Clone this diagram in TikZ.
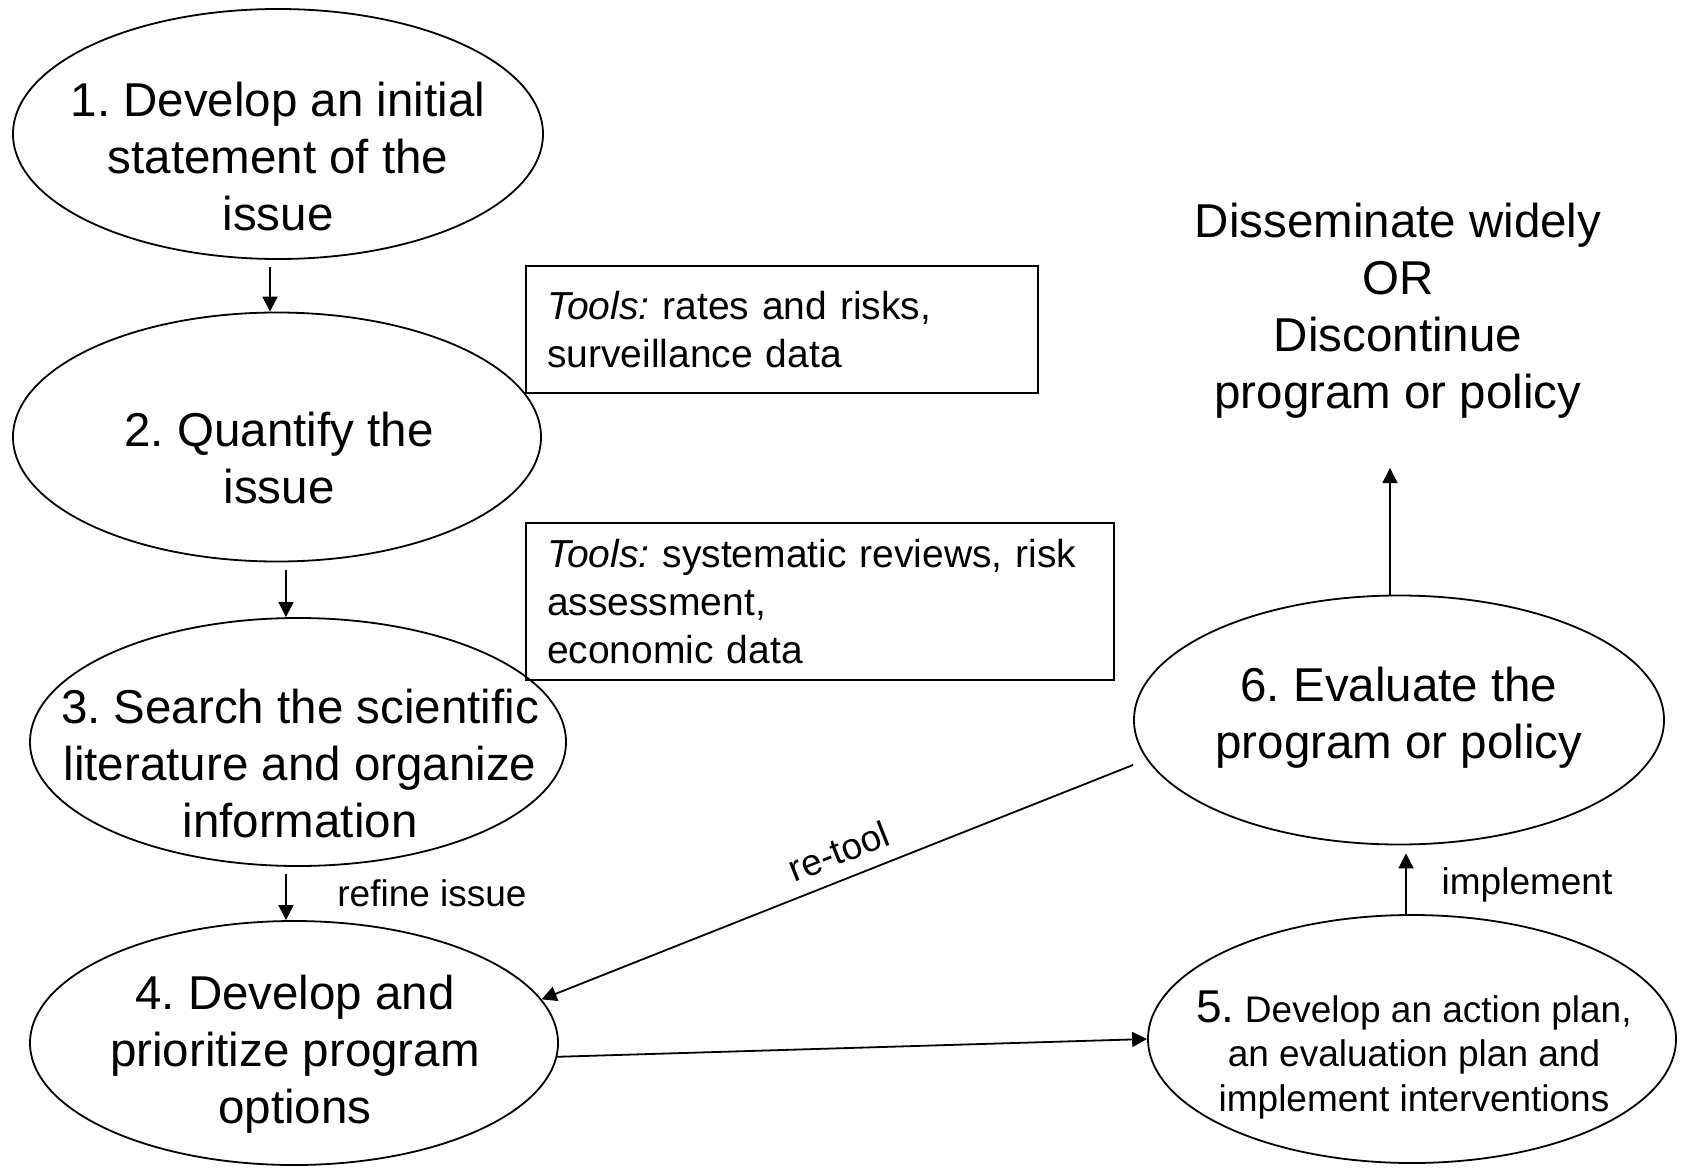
\documentclass[tikz,border=0pt]{standalone}
\usepackage{fontspec}
\setmainfont{Liberation Sans}
\usetikzlibrary{shapes.geometric,arrows.meta}
\frenchspacing
\begin{document}
\begin{tikzpicture}[x=1pt,y=-1pt,
  oval/.style={draw, ellipse, line width=1.8pt, inner sep=0pt},
  big/.style={font=\fontsize{47.5}{57}\selectfont, align=center, inner sep=0pt},
  lab/.style={font=\fontsize{37}{44.5}\selectfont, inner sep=0pt},
  arr/.style={line width=1.8pt, -{Triangle[length=15pt,width=15pt]}},
  toolbox/.style={draw, line width=1.8pt, font=\fontsize{39}{48}\selectfont, align=left, inner xsep=21pt, inner ysep=0pt}]

\useasboundingbox (0,0) rectangle (1683,1169);

% ellipses
\node[oval, minimum width=530pt, minimum height=250pt] (e1) at (278,134) {};
\node[oval, minimum width=528pt, minimum height=249pt] (e2) at (277,437) {};
\node[oval, minimum width=536pt, minimum height=248pt] (e3) at (298,742) {};
\node[oval, minimum width=528pt, minimum height=244pt] (e4) at (294,1043) {};
\node[oval, minimum width=528pt, minimum height=248pt] (e5) at (1412,1039) {};
\node[oval, minimum width=530pt, minimum height=249pt] (e6) at (1399,720) {};

% ellipse texts
\node[big] (t1) at (278,157) {1. Develop an initial\\statement of the\\issue};
\node[big] (t2) at (279,458) {2. Quantify the\\issue};
\node[big] (t3) at (300,764) {3. Search the scientific\\literature and organize\\information};
\node[big] (t4) at (295,1054) {4. Develop and\\prioritize program\\options};
\node[lab, align=center] (t5) at (1414,1055) {{\fontsize{46}{44.5}\selectfont 5.} Develop an action plan,\\an evaluation plan and\\implement interventions};
\node[big] (t6) at (1399,718) {6. Evaluate the\\program or policy};
\node[big] (dis) at (1398,311) {Disseminate widely\\OR\\Discontinue\\program or policy};

% tool boxes
\node[toolbox, minimum width=512pt, minimum height=127pt, text width=470pt] (b1) at (782,329.5) {\textit{Tools:} rates and risks,\\surveillance data};
\node[toolbox, minimum width=588pt, minimum height=157pt, text width=546pt] (b2) at (820,601.5) {\textit{Tools:} systematic reviews, risk\\assessment,\\economic data};

% labels
\node[lab] (ri) at (432,893) {refine issue};
\node[lab] (im) at (1527,885) {implement};

% connectors
\draw[arr] ([xshift=-8pt,yshift=-7pt]e1.south) -- ([xshift=-7pt]e2.north);
\draw[arr] ([xshift=9pt,yshift=-8pt]e2.south) -- ([xshift=-12pt]e3.north);
\draw[arr] ([xshift=-12pt,yshift=-7pt]e3.south) -- ([xshift=-8pt]e4.north);
\draw[arr] (e4.357) -- (e5.west);
\draw[arr] ([xshift=-6pt]e5.north) -- ([xshift=7pt,yshift=-8pt]e6.south);
\coordinate (dtip) at (1390,468);
\draw[arr] ([xshift=-9pt]e6.north) -- (dtip);
\coordinate (rt) at (1133,765);
\draw[arr] (rt) -- node[lab, sloped, above, pos=0.48, inner sep=14pt] (rtl) {re-tool} (e4.10);
\end{tikzpicture}
\end{document}
